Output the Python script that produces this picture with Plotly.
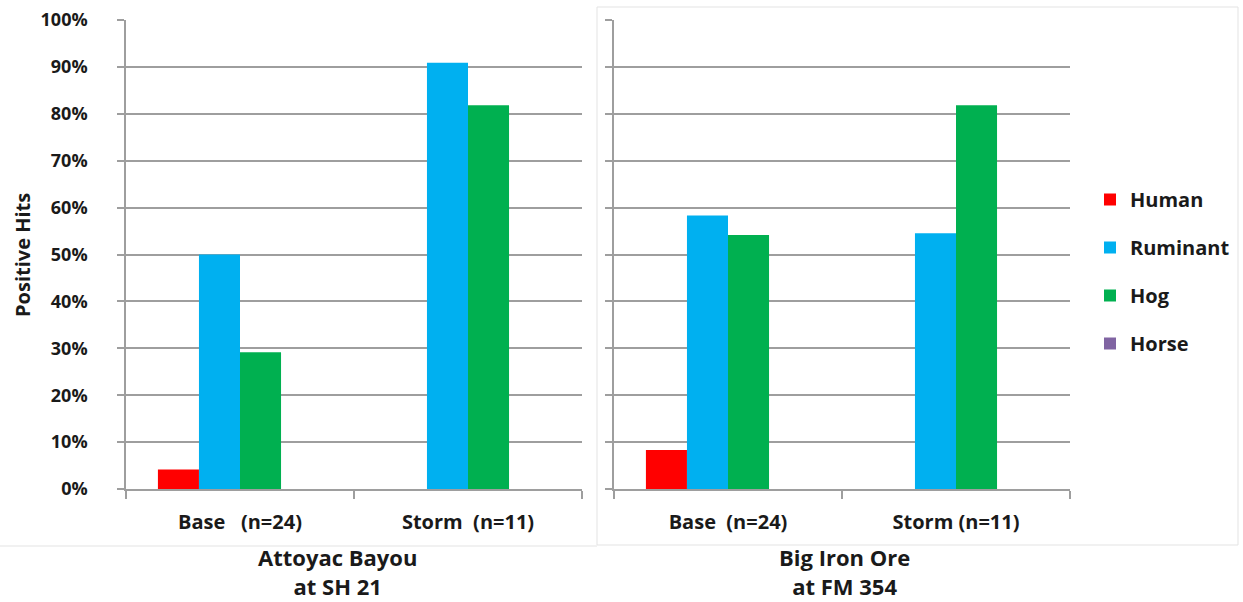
import plotly.graph_objects as go

# ---- data ----
series_names = ["Human", "Ruminant", "Hog", "Horse"]
series_colors = ["#FF0000", "#00B0F0", "#00B050", "#8064A2"]

left_categories = ["Base\u00a0\u00a0\u00a0(n=24)", "Storm\u00a0\u00a0(n=11)"]
right_categories = ["Base\u00a0\u00a0(n=24)", "Storm\u00a0(n=11)"]

left_human = [0.0417, 0.0]
left_ruminant = [0.50, 0.909]
left_hog = [0.2917, 0.818]
left_horse = [0.0, 0.0]

right_human = [0.0833, 0.0]
right_ruminant = [0.5833, 0.5455]
right_hog = [0.5417, 0.8182]
right_horse = [0.0, 0.0]

y_ticks = [0, 0.1, 0.2, 0.3, 0.4, 0.5, 0.6, 0.7, 0.8, 0.9, 1.0]
y_ticklabels = ["0%", "10%", "20%", "30%", "40%", "50%", "60%", "70%", "80%", "90%", "100%"]

left_title = "Attoyac Bayou<br>at SH 21"
right_title = "Big Iron Ore<br>at FM 354"
y_title = "Positive Hits"

# ---- figure ----
W, H = 1243, 602
FONT = "Open Sans"
GRID = "#9E9E9E"
TXT = "#1a1a1a"

fig = go.Figure()
left_vals = [left_human, left_ruminant, left_hog, left_horse]
right_vals = [right_human, right_ruminant, right_hog, right_horse]
for i, name in enumerate(series_names):
    fig.add_trace(go.Bar(x=left_categories, y=left_vals[i], name=name,
                         marker=dict(color=series_colors[i], line=dict(width=0)),
                         legendgroup=name, showlegend=True,
                         xaxis="x", yaxis="y"))
    fig.add_trace(go.Bar(x=right_categories, y=right_vals[i], name=name,
                         marker=dict(color=series_colors[i], line=dict(width=0)),
                         legendgroup=name, showlegend=False,
                         xaxis="x2", yaxis="y2"))

def px_x(p):
    return p / W

def px_y(p):
    return 1 - p / H

ydom = [px_y(489), px_y(20)]

common_x = dict(type="category", showgrid=False, showline=True, linecolor=GRID, linewidth=1.5,
                ticks="outside", tickson="boundaries", ticklen=8, tickcolor=GRID, tickwidth=1.5,
                tickfont=dict(family=FONT, size=20, color=TXT, weight="bold"),
                ticklabelstandoff=14, automargin=False)
common_y = dict(range=[0, 1], tickvals=y_ticks, ticktext=y_ticklabels,
                showgrid=True, gridcolor=GRID, gridwidth=1.5,
                showline=True, linecolor=GRID, linewidth=1.5,
                ticks="outside", ticklen=7, tickcolor=GRID, tickwidth=1.5,
                zeroline=False, domain=ydom, automargin=False)

fig.update_layout(
    width=W, height=H,
    margin=dict(l=0, r=0, t=0, b=0, pad=0, autoexpand=False),
    paper_bgcolor="white", plot_bgcolor="white",
    barmode="group", bargap=0.28, bargroupgap=0,
    xaxis=dict(domain=[px_x(126), px_x(582)], anchor="y", **common_x),
    xaxis2=dict(domain=[px_x(614), px_x(1070)], anchor="y2", **common_x),
    yaxis=dict(anchor="x", showticklabels=True,
               tickfont=dict(family=FONT, size=18, color=TXT, weight="bold"),
               ticklabelstandoff=26, **common_y),
    yaxis2=dict(anchor="x2", showticklabels=False, **common_y),
    legend=dict(x=px_x(1090), xanchor="left", y=px_y(180), yanchor="top",
                font=dict(family=FONT, size=20, color=TXT, weight="bold"),
                tracegroupgap=19, bgcolor="rgba(0,0,0,0)"),
    showlegend=True,
)

fig.add_annotation(text=y_title, xref="paper", yref="paper", x=px_x(22), y=px_y(255),
                   xanchor="center", yanchor="middle",
                   textangle=-90, showarrow=False,
                   font=dict(family=FONT, size=20, color=TXT, weight="bold"))
fig.add_annotation(text=left_title, xref="paper", yref="paper", x=px_x(337), y=px_y(571),
                   xanchor="center", yanchor="middle",
                   showarrow=False, align="center",
                   font=dict(family=FONT, size=22, color=TXT, weight="bold"))
fig.add_annotation(text=right_title, xref="paper", yref="paper", x=px_x(845), y=px_y(571),
                   xanchor="center", yanchor="middle",
                   showarrow=False, align="center",
                   font=dict(family=FONT, size=22, color=TXT, weight="bold"))

# panel borders
fig.add_shape(type="rect", xref="paper", yref="paper",
              x0=px_x(597), x1=px_x(1238), y0=px_y(545), y1=px_y(7),
              line=dict(color="#E3E3E3", width=1))
fig.add_shape(type="line", xref="paper", yref="paper",
              x0=px_x(0), x1=px_x(597), y0=px_y(546), y1=px_y(546),
              line=dict(color="#E3E3E3", width=1))

fig.write_html("out.html")
